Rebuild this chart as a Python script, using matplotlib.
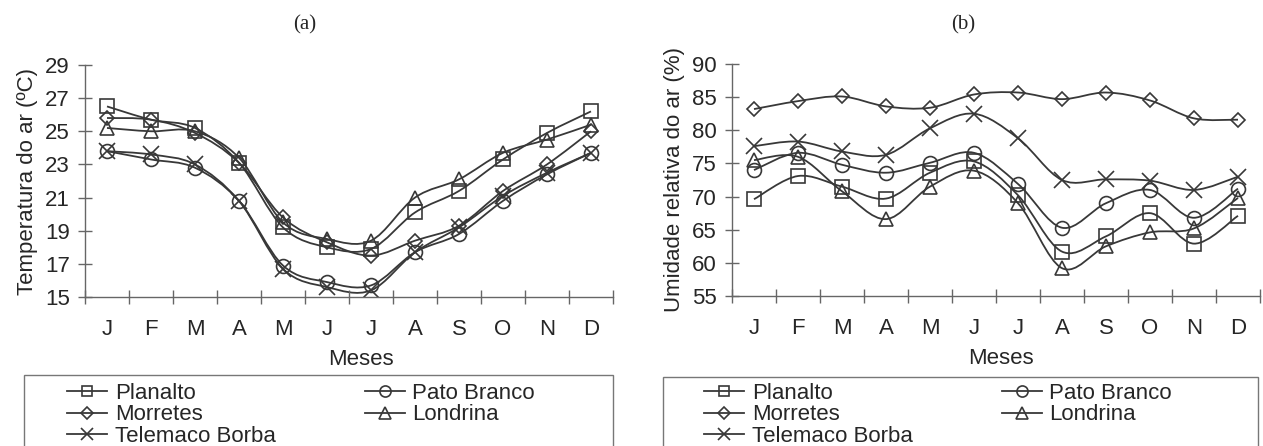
import numpy as np
import matplotlib
matplotlib.use("Agg")
import matplotlib.pyplot as plt
from matplotlib.path import Path
from matplotlib.patches import PathPatch, Rectangle
from matplotlib.lines import Line2D

# --- dados ---
meses = ["J", "F", "M", "A", "M", "J", "J", "A", "S", "O", "N", "D"]
locais = ["Planalto", "Pato Branco", "Morretes", "Londrina", "Telemaco Borba"]

# (a) temperatura do ar (ºC)
temp_planalto = [26.5, 25.7, 25.2, 23.1, 19.2, 18.0, 17.9, 20.1, 21.4, 23.3, 24.9, 26.2]
temp_pato_branco = [23.8, 23.3, 22.8, 20.8, 16.9, 15.9, 15.7, 17.7, 18.8, 20.8, 22.4, 23.7]
temp_morretes = [25.8, 25.7, 24.9, 23.1, 19.8, 18.3, 17.5, 18.4, 19.3, 21.4, 23.0, 25.0]
temp_londrina = [25.2, 25.0, 25.0, 23.4, 19.5, 18.5, 18.4, 21.0, 22.1, 23.7, 24.5, 25.4]
temp_telemaco = [23.8, 23.6, 23.0, 20.8, 16.7, 15.6, 15.4, 17.7, 19.2, 21.1, 22.5, 23.7]

# (b) umidade relativa do ar (%)
umid_planalto = [69.6, 73.1, 71.5, 69.7, 73.6, 75.3, 70.2, 61.7, 64.0, 67.5, 62.9, 67.1]
umid_pato_branco = [74.0, 76.6, 74.8, 73.6, 75.1, 76.6, 71.9, 65.3, 69.0, 71.0, 66.8, 71.2]
umid_morretes = [83.2, 84.4, 85.1, 83.6, 83.4, 85.4, 85.7, 84.7, 85.7, 84.5, 81.8, 81.6]
umid_londrina = [75.5, 76.0, 70.8, 66.6, 71.5, 73.9, 69.0, 59.2, 62.5, 64.6, 65.2, 69.8]
umid_telemaco = [77.6, 78.3, 76.8, 76.3, 80.3, 82.5, 78.8, 72.5, 72.6, 72.4, 71.0, 73.0]

# --- estilo ---
plt.rcParams["font.family"] = ["Liberation Sans", "DejaVu Sans"]
plt.rcParams["font.size"] = 15.5
COR = "#383838"
TXT = "#262626"
marcas = {"Planalto": ("s", 9.5), "Pato Branco": ("o", 10), "Morretes": ("D", 7.5),
          "Londrina": ("^", 10.5), "Telemaco Borba": ("x", 11)}

W, H = 1263, 446
fig = plt.figure(figsize=(W / 100, H / 100), dpi=100)


def curva_suave(ax, x, y):
    # linha suavizada (bezier) passando pelos pontos, como no Excel
    x = np.asarray(x, float)
    y = np.asarray(y, float)
    xp = np.concatenate([[x[0]], x, [x[-1]]])
    yp = np.concatenate([[y[0]], y, [y[-1]]])
    verts = [(x[0], y[0])]
    codes = [Path.MOVETO]
    for i in range(len(x) - 1):
        c1 = (x[i] + (xp[i + 2] - xp[i]) / 6, y[i] + (yp[i + 2] - yp[i]) / 6)
        c2 = (x[i + 1] - (xp[i + 3] - xp[i + 1]) / 6, y[i + 1] - (yp[i + 3] - yp[i + 1]) / 6)
        verts += [c1, c2, (x[i + 1], y[i + 1])]
        codes += [Path.CURVE4] * 3
    ax.add_patch(PathPatch(Path(verts, codes), fill=False, edgecolor=COR, lw=1.3))


def painel(rect, series, ylim, yticks, ylabel, xlab_x):
    ax = fig.add_axes(rect)
    x = np.arange(1, 13)
    for nome, vals in zip(locais, series):
        curva_suave(ax, x, vals)
        m, ms = marcas[nome]
        ax.plot(x, vals, ls="none", marker=m, ms=ms, mfc="none", mec=COR, mew=1.2)
    ax.set_xlim(0.5, 12.5)
    ax.set_ylim(*ylim)
    ax.set_xticks(x)
    ax.set_xticklabels(meses)
    ax.set_xticks(np.arange(0.5, 13, 1), minor=True)
    ax.set_yticks(yticks)
    ax.tick_params(axis="x", which="major", length=0, pad=16, labelcolor=TXT, labelsize=16)
    ax.tick_params(axis="x", which="minor", direction="inout", length=10, width=1, color="#666")
    ax.tick_params(axis="y", direction="inout", length=10, width=1, color="#666", pad=6,
                   labelcolor=TXT, labelsize=16)
    for s in ["top", "right"]:
        ax.spines[s].set_visible(False)
    for s in ["left", "bottom"]:
        ax.spines[s].set_color("#666")
        ax.spines[s].set_linewidth(1)
    ax.set_ylabel(ylabel, color=TXT, labelpad=5, fontsize=16)
    ax.set_xlabel("Meses", color=TXT, labelpad=6, fontsize=16)
    ax.xaxis.label.set_x(xlab_x)
    return ax


def px(x0, y0, x1, y1):
    return [x0 / W, 1 - y1 / H, (x1 - x0) / W, (y1 - y0) / H]


painel(px(85, 65, 613, 297),
       [temp_planalto, temp_pato_branco, temp_morretes, temp_londrina, temp_telemaco],
       (15, 29), range(15, 30, 2), "Temperatura do ar (ºC)", 0.523)
painel(px(732, 64, 1260, 296),
       [umid_planalto, umid_pato_branco, umid_morretes, umid_londrina, umid_telemaco],
       (55, 90), range(55, 91, 5), "Umidade relativa do ar (%)", 0.509)

fig.text(305 / W, 1 - 25 / H, "(a)", ha="center", va="center", family="Liberation Serif", fontsize=15, color=TXT)
fig.text(963 / W, 1 - 25 / H, "(b)", ha="center", va="center", family="Liberation Serif", fontsize=15, color=TXT)

# legendas (coluna 1: Planalto, Morretes, Telemaco; coluna 2: Pato Branco, Londrina)
ordem = ["Planalto", "Morretes", "Telemaco Borba", "Pato Branco", "Londrina"]
handles = [Line2D([], [], color=COR, lw=1.3, marker=marcas[n][0], ms=marcas[n][1] * 0.8,
                  mfc="none", mec=COR, mew=1.2) for n in ordem]
for hx, bx0, bx1, by in [(67, 24, 613, 375), (704, 663, 1258, 377)]:
    fig.add_artist(Rectangle((bx0 / W, -0.05), (bx1 - bx0) / W, 1 - by / H + 0.05,
                             transform=fig.transFigure, fill=False, edgecolor="#777", lw=1))
    fig.legend(handles, ordem, loc="upper left", bbox_to_anchor=(hx / W, 1 - 383 / H),
               ncol=2, frameon=False, borderpad=0, borderaxespad=0, handlelength=1.8,
               handletextpad=0.35, columnspacing=4.0, labelspacing=0.02, labelcolor=TXT,
               fontsize=16)

fig.savefig("out.png", dpi=100)
